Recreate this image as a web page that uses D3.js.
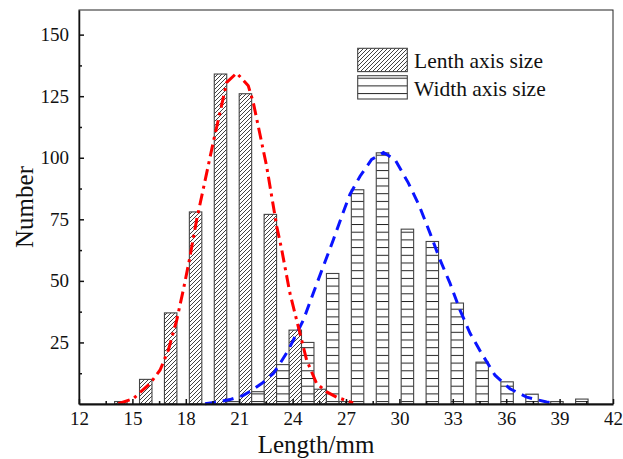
<!DOCTYPE html>
<html><head><meta charset="utf-8">
<script src="https://cdn.jsdelivr.net/npm/d3@7"></script>
<style>
html,body{margin:0;padding:0;background:#fff;}
svg{display:block;font-family:"Liberation Serif","Times New Roman",serif;}
</style></head>
<body><svg id="chart" width="623" height="459"></svg>
<script>
// ---- data ----
const binCenters   = [14.7, 16.1, 17.5, 18.9, 20.3, 21.7, 23.1, 24.5, 25.9, 27.3, 28.7, 30.1, 31.5, 32.9, 34.3, 35.7, 37.1, 38.5, 39.9];
const lengthCounts = [1, 10, 37, 78, 134, 126, 77, 30, 6, 1, 0, 0, 0, 0, 0, 0, 0, 0, 0];
const widthCounts  = [0, 0, 0, 0, 1, 5, 16, 25, 53, 87, 102, 71, 66, 41, 17, 9, 4, 1, 2];
const lengthFitX = [14.21, 15.05, 15.99, 16.55, 17.02, 17.49, 17.86, 18.20, 18.61, 19.54, 20.30, 20.86, 21.51, 21.79, 22.54, 23.11, 23.39, 23.85, 24.32, 24.79, 25.35, 25.92, 26.47, 27.40];
const lengthFitY = [0.1, 2.2, 8.3, 13.7, 21.9, 34.1, 46.3, 58.5, 74.8, 106.2, 130.6, 134.4, 129.2, 122.5, 96.6, 72.1, 62.6, 45.0, 31.4, 17.8, 8.3, 4.9, 2.8, 0.4];
const widthFitX = [19.08, 19.83, 20.48, 21.23, 21.70, 22.26, 22.92, 23.29, 23.76, 24.23, 24.60, 25.16, 25.72, 26.29, 26.76, 27.22, 27.79, 28.44, 29.10, 29.75, 30.50, 31.10, 31.72, 32.28, 32.84, 33.40, 33.97, 34.62, 35.37, 36.21, 37.15, 38.27, 38.60];
const widthFitY = [0.1, 0.8, 1.8, 3.5, 5.5, 8.3, 12.4, 16.4, 21.9, 28.7, 34.0, 45.0, 55.8, 66.7, 76.2, 85.1, 92.5, 99.3, 102.1, 99.3, 89.8, 80.8, 69.4, 58.6, 49.1, 38.2, 28.7, 20.5, 11.7, 6.2, 2.8, 0.8, 0.4];
const xTicks = [12, 15, 18, 21, 24, 27, 30, 33, 36, 39, 42];
const yTicks = [25, 50, 75, 100, 125, 150];
const legendLabels = ["Lenth axis size", "Width axis size"];
const xTitle = "Length/mm", yTitle = "Number";

// ---- layout ----
const L = 79, R = 613, T = 10, B = 404;
const svg = d3.select("#chart");
const x = d3.scaleLinear().domain([12, 42]).range([L, R]);
const y = d3.scaleLinear().domain([0, 160]).range([B, T]);
const half = 0.7;

const defs = svg.append("defs");
const pd = defs.append("pattern").attr("id", "diag").attr("patternUnits", "userSpaceOnUse")
  .attr("width", 4).attr("height", 4);
pd.append("rect").attr("width", 4).attr("height", 4).attr("fill", "#fff");
pd.append("path").attr("d", "M-1,1 l2,-2 M0,4 l4,-4 M3,5 l2,-2").attr("stroke", "#111").attr("stroke-width", 0.8);
const ph = defs.append("pattern").attr("id", "horiz").attr("patternUnits", "userSpaceOnUse")
  .attr("width", 8).attr("height", 7.7).attr("y", 0.7);
ph.append("rect").attr("width", 8).attr("height", 7.7).attr("fill", "#fff");
ph.append("line").attr("x1", 0).attr("x2", 8).attr("y1", 0.5).attr("y2", 0.5).attr("stroke", "#222").attr("stroke-width", 1);

// bars
const lenData = binCenters.map((c, i) => ({c, v: lengthCounts[i]})).filter(d => d.v > 0);
const widData = binCenters.map((c, i) => ({c, v: widthCounts[i]})).filter(d => d.v > 0);
svg.append("g").selectAll("rect").data(lenData).join("rect")
  .attr("x", d => x(d.c - half)).attr("width", d => x(d.c) - x(d.c - half))
  .attr("y", d => y(d.v)).attr("height", d => y(0) - y(d.v))
  .attr("fill", "url(#diag)").attr("stroke", "#444").attr("stroke-width", 1.1);
svg.append("g").selectAll("rect").data(widData).join("rect")
  .attr("x", d => x(d.c)).attr("width", d => x(d.c + half) - x(d.c))
  .attr("y", d => y(d.v)).attr("height", d => y(0) - y(d.v))
  .attr("fill", "url(#horiz)").attr("stroke", "#444").attr("stroke-width", 1.1);

// fit curves
const line = d3.line().x(d => x(d[0])).y(d => y(d[1]));
svg.append("path").datum(widthFitX.map((v, i) => [v, widthFitY[i]]))
  .attr("d", line).attr("fill", "none").attr("stroke", "#0a14ff").attr("stroke-width", 3)
  .attr("stroke-dasharray", "11,7");
svg.append("path").datum(lengthFitX.map((v, i) => [v, lengthFitY[i]]))
  .attr("d", line).attr("fill", "none").attr("stroke", "#ff0000").attr("stroke-width", 3)
  .attr("stroke-dasharray", "12,5,3,5");

// frame
svg.append("rect").attr("x", L).attr("y", T).attr("width", R - L).attr("height", B - T)
  .attr("fill", "none").attr("stroke", "#222").attr("stroke-width", 1);

// axes with inward ticks
const xAxis = svg.append("g").attr("transform", `translate(0,${B})`)
  .call(d3.axisBottom(x).tickValues(xTicks).tickSizeInner(-5).tickSizeOuter(0).tickPadding(8).tickFormat(d3.format("d")));
xAxis.select(".domain").attr("stroke", "#111").attr("stroke-width", 2);
svg.append("g").attr("transform", `translate(0,${B})`)
  .call(d3.axisBottom(x).tickValues(xTicks.slice(0, -1).map(v => v + 1.5)).tickSizeInner(-3).tickSizeOuter(0).tickFormat(""))
  .select(".domain").remove();
const yAxis = svg.append("g").attr("transform", `translate(${L},0)`)
  .call(d3.axisLeft(y).tickValues(yTicks).tickSizeInner(-5).tickSizeOuter(0).tickPadding(10));
yAxis.select(".domain").attr("stroke", "#111").attr("stroke-width", 1.5);
svg.append("g").attr("transform", `translate(${L},0)`)
  .call(d3.axisLeft(y).tickValues([12.5, 37.5, 62.5, 87.5, 112.5, 137.5]).tickSizeInner(-3).tickSizeOuter(0).tickFormat(""))
  .select(".domain").remove();
svg.selectAll(".tick line").attr("stroke", "#111").attr("stroke-width", 1.5);
svg.selectAll(".tick text").attr("font-family", "Liberation Serif, Times New Roman, serif")
  .attr("font-size", 19).attr("fill", "#111");

// titles
svg.append("text").attr("x", 316).attr("y", 453).attr("text-anchor", "middle")
  .attr("font-size", 25).attr("fill", "#111").text(xTitle);
svg.append("text").attr("transform", `translate(33,${(T + B) / 2}) rotate(-90)`).attr("text-anchor", "middle")
  .attr("font-size", 25).attr("fill", "#111").text(yTitle);

// legend
const lg = svg.append("g");
const sw = [{f: "url(#diag)", y0: 48.3}, {f: "url(#horiz)", y0: 75.7}];
sw.forEach((s, i) => {
  lg.append("rect").attr("x", 357.7).attr("y", s.y0).attr("width", 49.6).attr("height", 23.3)
    .attr("fill", s.f).attr("stroke", "#444").attr("stroke-width", 1.1);
  lg.append("text").attr("x", 414).attr("y", s.y0 + 20).attr("font-size", 21.5).attr("fill", "#111").text(legendLabels[i]);
});
</script></body></html>
